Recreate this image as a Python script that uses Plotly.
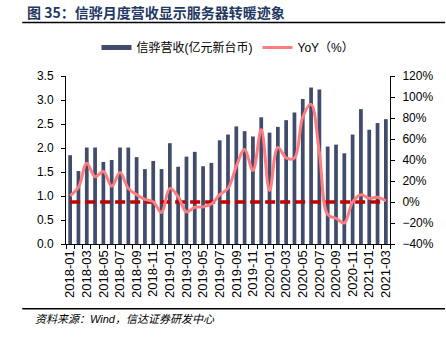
import plotly.graph_objects as go

months = [f"{y}-{m:02d}" for y in (2018, 2019, 2020) for m in range(1, 13)] + ["2021-01", "2021-02", "2021-03"]
revenue = [1.85, 1.52, 2.01, 2.01, 1.71, 1.75, 2.01, 2.01, 1.81, 1.56, 1.73, 1.56,
           2.10, 1.61, 1.82, 1.92, 1.62, 1.69, 2.16, 2.28, 2.45, 2.35, 2.24, 2.64,
           2.32, 2.44, 2.58, 2.74, 3.02, 3.26, 3.22, 2.03, 2.07, 1.89, 2.28, 2.81,
           2.38, 2.52, 2.60]
yoy = [6, 14, 37, 24, 29, 15, 28, 13, 7, 2.5, 0.3, -10,
       13, 5, -9.5, -5, -4.5, -2, 7, 13, 34, 50, 30, 69,
       11, 52, 42, 42, 81, 93, 47, -12, -15.5, -20, 0, 7,
       3.5, 4.5, 1]
baseline = [0] * len(months)
tick_text = [m if i % 2 == 0 else "" for i, m in enumerate(months)]

BAR_C = "#414B6B"
LINE_C = "#FF7C80"
DASH_C = "#C00000"
FONT = "Liberation Sans, Arial, Noto Sans CJK SC, sans-serif"

fig = go.Figure()
fig.add_trace(go.Bar(x=months, y=revenue, marker=dict(color=BAR_C, line=dict(width=0)),
                     width=0.45, showlegend=False, name="信骅营收(亿元新台币)"))
# legend proxy for bars (wide rectangle swatch)
fig.add_trace(go.Scatter(x=[None], y=[None], mode="lines", line=dict(color=BAR_C, width=5),
                         name="信骅营收(亿元新台币)"))
fig.add_trace(go.Scatter(x=months, y=baseline, yaxis="y2", mode="lines",
                         line=dict(color=DASH_C, width=3.5, dash="10px,5px"), showlegend=False))
fig.add_trace(go.Scatter(x=months, y=yoy, yaxis="y2", mode="lines", name="YoY（%）",
                         line=dict(color=LINE_C, width=3, shape="spline", smoothing=1)))

fig.update_layout(
    width=446, height=351,
    margin=dict(l=66, r=54, t=76, b=107),
    paper_bgcolor="white", plot_bgcolor="white",
    font=dict(family=FONT, size=12, color="#000000"),
    bargap=0.5,
    legend=dict(orientation="h", x=0.5, xanchor="center", y=1.17, yanchor="middle",
                font=dict(size=12), itemwidth=30, bgcolor="rgba(0,0,0,0)", traceorder="normal"),
    xaxis=dict(type="category", tickmode="array", tickvals=months, ticktext=tick_text,
               tickangle=-90, tickson="boundaries", ticks="outside", ticklen=4,
               showline=True, linecolor="#000000", linewidth=1, tickcolor="#000000",
               range=[-0.5, len(months) - 0.5], tickfont=dict(size=13), showgrid=False),
    yaxis=dict(range=[0, 3.5], dtick=0.5, tickformat=".1f", showline=True, linecolor="#000000",
               ticks="outside", ticklen=4, tickcolor="#000000", showgrid=False, zeroline=False,
               tickfont=dict(size=12), ticklabelstandoff=5),
    yaxis2=dict(range=[-40, 120], dtick=20, ticksuffix="%", overlaying="y", side="right",
                showline=True, linecolor="#000000", ticks="outside", ticklen=4, tickcolor="#000000",
                showgrid=False, zeroline=False, tickfont=dict(size=12), ticklabelstandoff=5),
    shapes=[
        dict(type="line", xref="paper", yref="paper", x0=-0.135, x1=1.17, y0=1.319, y1=1.319,
             line=dict(color="#000000", width=1.5)),
        dict(type="line", xref="paper", yref="paper", x0=-0.135, x1=1.17, y0=-0.386, y1=-0.386,
             line=dict(color="#000000", width=1.5)),
    ],
    annotations=[
        dict(text="<b>图 35：信骅月度营收显示服务器转暖迹象</b>", xref="paper", yref="paper",
             x=-0.126, y=1.378, xanchor="left", yanchor="middle", showarrow=False,
             font=dict(size=14, color="#1F3864", family="Noto Sans CJK SC, sans-serif")),
        dict(text="<i>资料来源：Wind，信达证券研发中心</i>", xref="paper", yref="paper",
             x=-0.101, y=-0.446, xanchor="left", yanchor="middle", showarrow=False,
             font=dict(size=11, color="#000000")),
    ],
)

fig.write_html("out.html")
